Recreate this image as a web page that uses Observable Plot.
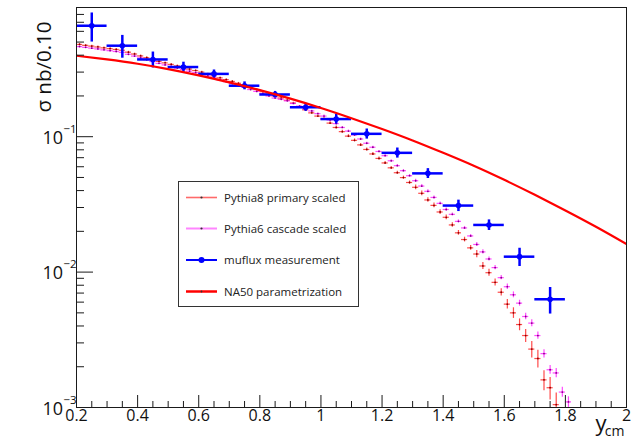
<!DOCTYPE html>
<html><head><meta charset="utf-8">
<script src="https://cdn.jsdelivr.net/npm/d3@7"></script>
<script src="https://cdn.jsdelivr.net/npm/@observablehq/plot@0.6"></script>
<style>
html,body{margin:0;padding:0;background:#fff;}
#wrap{position:relative;width:637px;height:444px;overflow:hidden;font-family:'Open Sans','Noto Sans',sans-serif;}
#wrap svg{display:block;}
</style></head><body><div id="wrap"></div>
<script>
// ---- data ----
const binCenters = [0.21,0.23,0.25,0.27,0.29,0.31,0.33,0.35,0.37,0.39,0.41,0.43,0.45,0.47,0.49,0.51,0.53,0.55,0.57,0.59,
  0.61,0.63,0.65,0.67,0.69,0.71,0.73,0.75,0.77,0.79,0.81,0.83,0.85,0.87,0.89,0.91,0.93,0.95,0.97,0.99,
  1.01,1.03,1.05,1.07,1.09,1.11,1.13,1.15,1.17,1.19,1.21,1.23,1.25,1.27,1.29,1.31,1.33,1.35,1.37,1.39,
  1.41,1.43,1.45,1.47,1.49,1.51,1.53,1.55,1.57,1.59,1.61,1.63,1.65,1.67,1.69,1.71,1.73,1.75,1.77,1.79,1.81];
const pythiaBinHalfWidth = 0.01;

const pythia8Values = [0.480,0.473,0.467,0.460,0.453,0.447,0.441,0.435,0.421,0.408,0.395,0.383,0.372,0.360,
  0.351,0.342,0.333,0.324,0.316,0.308,0.300,0.290,0.281,0.272,0.264,0.256,0.248,0.240,
  0.231,0.223,0.215,0.207,0.200,0.193,0.186,0.177,0.167,0.158,0.150,0.142,0.135,
  0.126,0.117,0.109,0.101,0.0940,0.0870,0.0805,0.0746,0.0691,0.0640,0.0589,0.0542,0.0499,0.0459,0.0423,
  0.0382,0.0341,0.0311,0.0278,0.0254,0.0223,0.0195,0.0174,0.0151,0.0136,
  0.0111,0.0099,0.0084,0.0071,0.0058,0.0050,0.0041,0.0034,0.0027,0.0023,0.0016,0.0014,0.00105];
const pythia8RelErr = [0.015,0.015,0.015,0.015,0.015,0.015,0.015,0.015,0.015,0.015,0.015,0.015,0.015,0.015,0.015,0.015,0.015,0.015,0.015,0.015,
  0.015,0.015,0.015,0.015,0.015,0.015,0.015,0.015,0.015,0.015,0.015,0.015,0.015,0.015,0.015,0.015,0.015,0.015,0.015,0.015,
  0.025,0.025,0.025,0.025,0.025,0.025,0.025,0.025,0.025,0.025,0.025,0.025,0.025,0.025,0.025,
  0.04,0.04,0.04,0.04,0.04,0.04,0.04,0.04,0.04,0.04,
  0.06,0.06,0.06,0.06,0.06,
  0.08,0.09,0.10,0.11,0.14,0.15,0.17,0.19,0.22];

const pythia6Values = [0.463,0.457,0.451,0.445,0.438,0.432,0.426,0.420,0.406,0.394,0.382,0.370,0.359,0.348,
  0.339,0.330,0.321,0.313,0.305,0.297,0.290,0.281,0.272,0.263,0.255,0.247,0.239,0.232,
  0.223,0.216,0.208,0.200,0.193,0.189,0.184,0.176,0.168,0.161,0.155,0.148,0.142,
  0.133,0.125,0.117,0.110,0.103,0.0962,0.0895,0.0836,0.0778,0.0724,0.0664,0.0611,0.0561,0.0515,0.0473,
  0.0432,0.0395,0.0356,0.0322,0.0290,0.0267,0.0237,0.0212,0.0185,0.0160,
  0.0141,0.0125,0.0108,0.0091,0.0078,0.0068,0.0059,0.0047,0.0042,0.0034,0.0025,0.0019,0.0018,0.0013,0.0011];
const pythia6RelErr = [0.012,0.012,0.012,0.012,0.012,0.012,0.012,0.012,0.012,0.012,0.012,0.012,0.012,0.012,0.012,0.012,0.012,0.012,0.012,0.012,
  0.012,0.012,0.012,0.012,0.012,0.012,0.012,0.012,0.012,0.012,0.012,0.012,0.012,0.012,0.012,0.012,0.012,0.012,0.012,0.012,
  0.018,0.018,0.018,0.018,0.018,0.018,0.018,0.018,0.018,0.018,0.018,0.018,0.018,0.018,0.018,
  0.025,0.025,0.025,0.025,0.025,0.025,0.025,0.025,0.025,0.025,
  0.035,0.035,0.035,0.035,0.035,
  0.045,0.05,0.05,0.055,0.06,0.06,0.07,0.075,0.08,0.085,0.09];

const mufluxX = [0.25,0.35,0.45,0.55,0.65,0.75,0.85,0.95,1.05,1.15,1.25,1.35,1.45,1.55,1.65,1.75];
const mufluxY = [0.66,0.47,0.372,0.327,0.291,0.238,0.205,0.165,0.135,0.105,0.076,0.0536,0.031,0.0223,0.013,0.0063];
const mufluxErr = [0.16,0.09,0.05,0.028,0.02,0.016,0.011,0.011,0.011,0.009,0.0065,0.0045,0.003,0.002,0.002,0.0014];
const mufluxBinHalfWidth = 0.05;

const na50X = [0.2,0.3,0.4,0.5,0.6,0.7,0.8,0.9,1.0,1.1,1.2,1.3,1.4,1.5,1.6,1.7,1.8,1.9,2.0];
const na50Y = [0.396,0.372,0.346,0.316,0.284,0.252,0.221,0.191,0.163,0.137,0.114,0.0938,0.0760,0.0610,0.0480,0.0372,0.0285,0.0216,0.0161];

const xMajorTicks = [0.2,0.4,0.6,0.8,1,1.2,1.4,1.6,1.8,2];
const xMajorLabels = ["0.2","0.4","0.6","0.8","1","1.2","1.4","1.6","1.8","2"];
const xMinorTicks = [0.25,0.3,0.35,0.45,0.5,0.55,0.65,0.7,0.75,0.85,0.9,0.95,1.05,1.1,1.15,1.25,1.3,1.35,1.45,1.5,1.55,1.65,1.7,1.75,1.85,1.9,1.95];
const yMajorTicks = [0.001,0.01,0.1];
const yMajorExponents = ["\u22123","\u22122","\u22121"];
const yMinorTicks = [0.002,0.003,0.004,0.005,0.006,0.007,0.008,0.009,0.02,0.03,0.04,0.05,0.06,0.07,0.08,0.09,0.2,0.3,0.4,0.5,0.6,0.7,0.8,0.9];

const yTitle = "\u03c3 nb/0.10";
const xTitleMain = "y";
const xTitleSub = "cm";
const legendLabels = ["Pythia8 primary scaled","Pythia6 cascade scaled","muflux measurement","NA50 parametrization"];

// ---- styles ----
const font = "'Open Sans','Noto Sans',sans-serif";
const c8 = "#ff2a2a", c6 = "#ff1cff", cMu = "#0000ff", cNA = "#ff0000", axisC = "#1a1a1a";

const p8 = pythia8Values.map((v,i)=>({x:binCenters[i], y:v, e:v*pythia8RelErr[i]}));
const p6 = pythia6Values.map((v,i)=>({x:binCenters[i], y:v, e:v*pythia6RelErr[i]}));
const mu = mufluxX.map((x,i)=>({x, y:mufluxY[i], e:mufluxErr[i]}));
const na50 = na50X.map((x,i)=>({x, y:na50Y[i]}));

const W = 637, H = 444, mL = 76, mR = 11, mT = 7, mB = 37;
const fw = W - mL - mR, fh = H - mT - mB;

function crosses(data, color, op, dotFill){
  return [
    Plot.ruleY(data, {y:"y", x1:d=>d.x-pythiaBinHalfWidth, x2:d=>d.x+pythiaBinHalfWidth, stroke:color, strokeOpacity:op, strokeWidth:1.2, clip:true}),
    Plot.ruleX(data, {x:"x", y1:d=>d.y-d.e, y2:d=>d.y+d.e, stroke:color, strokeOpacity:op, strokeWidth:1.2, clip:true}),
    Plot.dot(data, {x:"x", y:"y", r:0.9, fill:dotFill, stroke:null, clip:true})
  ];
}

const chart = Plot.plot({
  width: W, height: H,
  marginLeft: mL, marginRight: mR, marginTop: mT, marginBottom: mB,
  x: {domain:[0.2,2], axis:null},
  y: {type:"log", domain:[0.001,0.9], axis:null},
  style: {fontFamily: font, background:"#fff", overflow:"visible"},
  marks: [
    ...crosses(p8, c8, 0.85, "#8a0000"),
    ...crosses(p6, c6, 0.8, "#8a008a"),
    Plot.ruleY(mu, {y:"y", x1:d=>d.x-mufluxBinHalfWidth, x2:d=>d.x+mufluxBinHalfWidth, stroke:cMu, strokeWidth:2.5, clip:true}),
    Plot.ruleX(mu, {x:"x", y1:d=>d.y-d.e, y2:d=>d.y+d.e, stroke:cMu, strokeWidth:2.5, clip:true}),
    Plot.dot(mu, {x:"x", y:"y", r:2.8, fill:cMu, stroke:null, clip:true}),
    Plot.line(na50, {x:"x", y:"y", stroke:cNA, strokeWidth:2.2, curve:"natural", clip:true}),
    Plot.frame({stroke: axisC, strokeWidth: 1}),
    Plot.tickX(xMajorTicks, {x:d=>d, insetTop: fh-12, stroke:axisC}),
    Plot.tickX(xMinorTicks, {x:d=>d, insetTop: fh-6, stroke:axisC}),
    Plot.tickY(yMajorTicks, {y:d=>d, insetRight: fw-17, stroke:axisC}),
    Plot.tickY(yMinorTicks, {y:d=>d, insetRight: fw-8, stroke:axisC}),
    Plot.text(xMajorTicks, {x:d=>d, frameAnchor:"bottom", dy:13, text:(d,i)=>xMajorLabels[i], fontSize:16, fill:"#111"}),
    Plot.text(yMajorTicks, {y:d=>d, frameAnchor:"left", dx:-13.5, dy:1.5, textAnchor:"end", text:()=>"10", fontSize:18, fill:"#111"}),
    Plot.text(yMajorTicks, {y:d=>d, frameAnchor:"left", dx:-13, dy:-7.5, textAnchor:"start", text:(d,i)=>yMajorExponents[i], fontSize:11.5, fill:"#111"}),
    Plot.text([yTitle], {frameAnchor:"top-left", rotate:-90, textAnchor:"end", dx:-40, dy:14, text:d=>d, fontSize:20.5, fill:"#111"}),
    Plot.text([xTitleMain], {frameAnchor:"bottom-right", textAnchor:"end", dx:-20, dy:23, text:d=>d, fontSize:22, fill:"#111"}),
    Plot.text([xTitleSub], {frameAnchor:"bottom-right", textAnchor:"end", dx:-2, dy:28.5, text:d=>d, fontSize:14, fill:"#111"})
  ]
});
const wrap = document.getElementById("wrap");
wrap.appendChild(chart);

// ---- legend overlay ----
const ns = "http://www.w3.org/2000/svg";
const lg = document.createElementNS(ns, "svg");
lg.setAttribute("width", W); lg.setAttribute("height", H);
lg.style.position = "absolute"; lg.style.left = "0"; lg.style.top = "0";
function el(tag, attrs, parent){ const e = document.createElementNS(ns, tag); for (const k in attrs) e.setAttribute(k, attrs[k]); (parent||lg).appendChild(e); return e; }
el("rect", {x:178.5, y:181.5, width:180, height:125, fill:"#fff", stroke:"#333", "stroke-width":1});
const rowY = [197.5, 228.5, 260, 291.5];
const sample = [
  {stroke:"#ff6a6a", w:1.6, dot:1.1, dotFill:"#333"},
  {stroke:"#ff85ff", w:2, dot:1.1, dotFill:"#333"},
  {stroke:cMu, w:2, dot:3, dotFill:cMu},
  {stroke:cNA, w:2.5, dot:0.9, dotFill:"#333"}
];
legendLabels.forEach((lab,i)=>{
  const y = rowY[i], s = sample[i];
  el("line", {x1:186, x2:217, y1:y, y2:y, stroke:s.stroke, "stroke-width":s.w});
  el("circle", {cx:201.5, cy:y, r:s.dot, fill:s.dotFill});
  const t = el("text", {x:224, y:y+4.2, "font-size":11.5, fill:"#222", "font-family":font});
  t.textContent = lab;
});
wrap.appendChild(lg);
</script>
</body></html>
